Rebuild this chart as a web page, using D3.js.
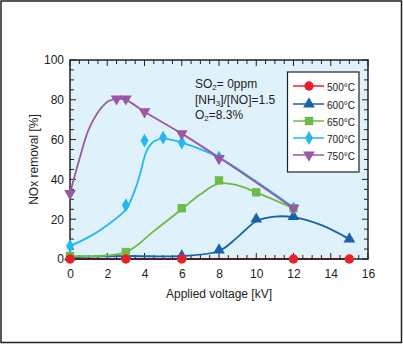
<!DOCTYPE html>
<html><head><meta charset="utf-8">
<script src="https://cdn.jsdelivr.net/npm/d3@7"></script>
<style>body{margin:0;background:#fff}svg{display:block}text{font-family:"Liberation Sans",Arial,sans-serif}</style>
</head><body>
<svg id="c" width="403" height="344"></svg>
<script>
// ---- data ----
const seriesNames = ["500°C","600°C","650°C","700°C","750°C"];
const x500 = [0,3,6,12,15];           const y500 = [0,0,0,0,0];
const x600 = [0,3,6,8,10,12,15];      const y600 = [1,1.5,1.5,4.5,20,21.3,10];
const x650 = [0,3,6,8,10,12];         const y650 = [1.5,3.5,25.5,39.5,33.5,25.5];
const x700 = [0,3,4,5,6,8,12];        const y700 = [6.5,27,59.5,61,58.5,51,25.5];
const x750 = [0,2.5,3,4,6,8,12];      const y750 = [33,80.5,80.5,74,63,50.5,25.5];
// fitted curves
const fx600 = [0,3,6,8,9,10,11,12,13.5,15]; const fy600 = [1,1.5,1.5,4,11,19,21.3,21,17,10];
const fx650 = [0,3,4.5,6,7,8,9,10,12];      const fy650 = [1.5,3.5,14,25,32.5,38,37,33.5,25.5];
const fx700 = [0,1,2,3,3.5,3.8,4.1,4.5,5,6,8,10,12]; const fy700 = [6.5,11,17,25,35,44,54,59,60.5,58.5,51,39,26];
const fx750 = [0,0.5,1,1.6,2.1,2.6,3,4,6,8,10,12]; const fy750 = [33,50,65,75,79.5,80.5,80,74,63,51,38.5,25.5];
const xTicks = [0,2,4,6,8,10,12,14,16];
const yTicks = [0,20,40,60,80,100];

const colors = ["#e8202a","#1862aa","#6cbb44","#25b8ee","#9a57a4"];
const symbols = [d3.symbolCircle, d3.symbolTriangle, d3.symbolSquare, d3.symbolDiamond, d3.symbolTriangle];
const symSize = [70,60,70,55,60];

const svg = d3.select("#c");
const L=70,R=368,T=60,B=259;
const x = d3.scaleLinear().domain([0,16]).range([L,R]);
const y = d3.scaleLinear().domain([0,100]).range([B,T]);

svg.append("rect").attr("x",1).attr("y",1).attr("width",400.5).attr("height",341.5)
  .attr("fill","#fff").attr("stroke","#222").attr("stroke-width",1.5);
svg.append("rect").attr("x",L).attr("y",T).attr("width",R-L).attr("height",B-T).attr("fill","#dff2fc");

const line = d3.line().x(d=>x(d[0])).y(d=>y(d[1])).curve(d3.curveCatmullRom.alpha(0.5));
const fits = [[x500,y500],[fx600,fy600],[fx650,fy650],[fx700,fy700],[fx750,fy750]];
const pts = [[x500,y500],[x600,y600],[x650,y650],[x700,y700],[x750,y750]];
// red line at 0 lies under the frame
svg.append("path").datum(fits[0][0].map((v,k)=>[v,fits[0][1][k]])).attr("d",line)
  .attr("fill","none").attr("stroke",colors[0]).attr("stroke-width",1.8);

// axes
const gx = svg.append("g").attr("transform",`translate(0,${B})`)
  .call(d3.axisBottom(x).tickValues(xTicks).tickSize(0).tickPadding(10).tickFormat(d3.format("d")));
const gy = svg.append("g").attr("transform",`translate(${L},0)`)
  .call(d3.axisLeft(y).tickValues(yTicks).tickSize(0).tickPadding(6).tickFormat(d3.format("d")));
[gx,gy].forEach(g=>{g.select(".domain").remove();g.selectAll("text").attr("font-size",12).attr("fill","#222").attr("font-family","Liberation Sans, Arial, sans-serif");});

// inward ticks
const minorX = d3.range(0,16.01,0.5), minorY = d3.range(0,100.01,5);
const tk = svg.append("g").attr("stroke","#222").attr("stroke-width",1);
minorX.forEach(v=>{const len = v%2===0?6:4;
  tk.append("line").attr("x1",x(v)).attr("x2",x(v)).attr("y1",B).attr("y2",B-len);
  tk.append("line").attr("x1",x(v)).attr("x2",x(v)).attr("y1",T).attr("y2",T+len);});
minorY.forEach(v=>{const len = v%20===0?6:4;
  tk.append("line").attr("y1",y(v)).attr("y2",y(v)).attr("x1",L).attr("x2",L+len);
  tk.append("line").attr("y1",y(v)).attr("y2",y(v)).attr("x1",R).attr("x2",R-len);});
svg.append("rect").attr("x",L).attr("y",T).attr("width",R-L).attr("height",B-T)
  .attr("fill","none").attr("stroke","#222").attr("stroke-width",1.5);

svg.append("text").attr("x",(L+R)/2).attr("y",298).attr("text-anchor","middle")
  .attr("font-size",12).attr("fill","#222").text("Applied voltage [kV]");
svg.append("text").attr("transform",`translate(38,${(T+B)/2}) rotate(-90)`).attr("text-anchor","middle")
  .attr("font-size",12).attr("fill","#222").text("NOx removal [%]");

const order=[1,2,3,4];
order.forEach(i=>{
  const d = fits[i][0].map((v,k)=>[v,fits[i][1][k]]);
  svg.append("path").datum(d).attr("d",line).attr("fill","none").attr("stroke",colors[i]).attr("stroke-width",1.8);
});
[1,2,3,4,0].forEach(i=>{
  const d = pts[i][0].map((v,k)=>[v,pts[i][1][k]]);
  const rot = i===4?180:0;
  svg.append("g").selectAll("path").data(d).join("path")
    .attr("d",d3.symbol().type(symbols[i]).size(symSize[i]))
    .attr("transform",p=>`translate(${x(p[0])},${y(p[1])}) rotate(${rot})`)
    .attr("fill",colors[i]);
});

// annotation
const ann = svg.append("g").attr("font-size",12).attr("fill","#222");
let t = ann.append("text").attr("x",195).attr("y",88);
t.append("tspan").text("SO");t.append("tspan").attr("font-size",8).attr("dy",2).text("2");
t.append("tspan").attr("dy",-2).text("= 0ppm");
t = ann.append("text").attr("x",195).attr("y",104);
t.append("tspan").text("[NH");t.append("tspan").attr("font-size",8).attr("dy",2).text("3");
t.append("tspan").attr("dy",-2).text("]/[NO]=1.5");
t = ann.append("text").attr("x",195).attr("y",119);
t.append("tspan").text("O");t.append("tspan").attr("font-size",8).attr("dy",2).text("2");
t.append("tspan").attr("dy",-2).text("=8.3%");

// legend
const lg = svg.append("g");
lg.append("rect").attr("x",287.5).attr("y",72).attr("width",71.5).attr("height",100)
  .attr("fill","#fff").attr("stroke","#222").attr("stroke-width",1.2);
const ly = [86,104,121,138,155];
seriesNames.forEach((n,i)=>{
  lg.append("line").attr("x1",293).attr("x2",324).attr("y1",ly[i]).attr("y2",ly[i]).attr("stroke",colors[i]).attr("stroke-width",1.5);
  lg.append("path").attr("d",d3.symbol().type(symbols[i]).size(symSize[i]))
    .attr("transform",`translate(309,${ly[i]}) rotate(${i===4?180:0})`).attr("fill",colors[i]);
  lg.append("text").attr("x",327).attr("y",ly[i]+4.5).attr("font-size",11.5).attr("fill","#222")
    .attr("textLength",28).attr("lengthAdjust","spacingAndGlyphs").text(n);
});
</script>
</body></html>
